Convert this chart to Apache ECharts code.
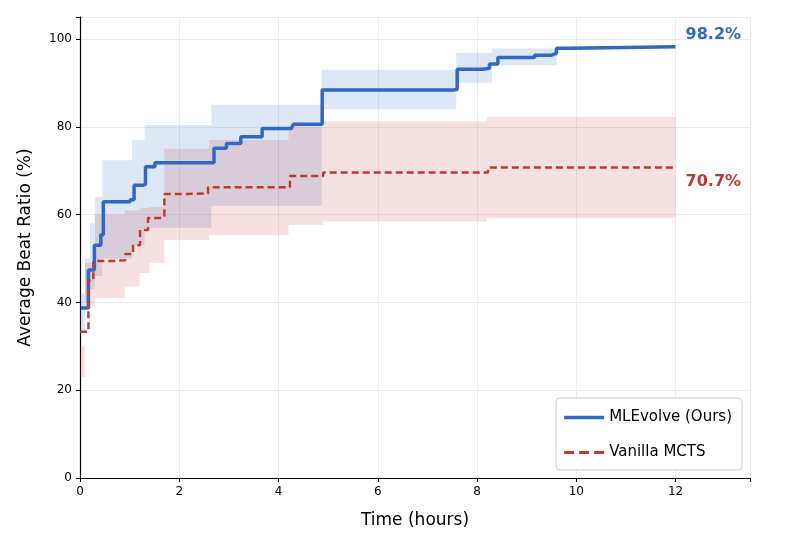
<!DOCTYPE html>
<html><head><meta charset="utf-8">
<script src="https://cdn.jsdelivr.net/npm/echarts@6/dist/echarts.min.js"></script>
<style>html,body{margin:0;padding:0;background:#fff}#c{width:786px;height:544px}</style>
</head><body><div id="c"></div>
<script>
const xTicks = [0, 2, 4, 6, 8, 10, 12];
const yTicks = [0, 20, 40, 60, 80, 100];

// MLEvolve mean (step curve, [hours, %])
const mleT = [0.02,0.17,0.29,0.42,0.47,1.01,1.09,1.27,1.32,1.51,2.65,2.70,2.95,3.19,3.24,3.62,3.67,4.26,4.30,4.83,4.88,7.53,7.60,8.11,8.25,8.42,9.09,9.16,9.50,9.60,9.87,12];
const mleV = [38.7,47.4,53.0,55.4,62.9,63.4,66.7,66.9,70.9,71.8,71.8,75.1,76.2,76.2,77.7,77.7,79.6,79.6,80.6,80.6,88.4,88.5,93.1,93.3,94.3,95.8,95.8,96.3,96.7,97.9,98.2,98.2];
// MLEvolve band
const mleBandT = [0,0.1,0.2,0.3,0.45,1.05,1.3,2.65,4.87,7.58,8.3,9.6,12];
const mleUp = [42,50,58,64,72.4,77,80.4,85,93,96.8,97.8,98.2,98.2];
const mleLo = [33,40,43,46,50,53,57,62,84,90,94,98.2,98.2];

// Vanilla MCTS mean
const mctsT = [0.0,0.17,0.27,0.64,0.91,1.07,1.21,1.37,1.61,1.70,2.17,2.58,4.13,4.23,4.9,8.15,8.22,12];
const mctsV = [33.3,45.0,49.4,49.6,51.0,53.0,56.5,59.2,59.4,64.7,64.8,66.2,66.2,68.8,69.6,69.6,70.7,70.7];
// Vanilla MCTS band
const mctsBandT = [0,0.1,0.3,0.9,1.2,1.4,1.7,2.6,4.2,4.9,8.2,12];
const mctsUp = [30,49,60,61,61.5,61.7,75,77,80,81.2,82.2,82.2];
const mctsLo = [23,39,41,43.6,46.7,49,54.2,55.3,57.6,58.4,59.2,59.2];

const pairs = (t, v) => t.map((x, i) => [x, v[i]]);
function bandSeries(t, up, lo, color) {
  return {
    type: 'custom', silent: true, z: 1,
    data: [0],
    renderItem: (params, api) => {
      const top = [], bot = [];
      for (let i = 0; i < t.length; i++) {
        top.push(api.coord([t[i], up[i]]));
        bot.push(api.coord([t[i], lo[i]]));
        if (i < t.length - 1) {
          top.push(api.coord([t[i + 1], up[i]]));
          bot.push(api.coord([t[i + 1], lo[i]]));
        }
      }
      const pts = top.concat(bot.reverse());
      return { type: 'polygon', shape: { points: pts }, style: { fill: color } };
    }
  };
}
const font = 'DejaVu Sans';
const chart = echarts.init(document.getElementById('c'));
chart.setOption({
  animation: false,
  textStyle: { fontFamily: font },
  grid: { left: 80, right: 36, top: 17, bottom: 66 },
  xAxis: {
    type: 'value', min: 0, max: 13.5, interval: 2,
    name: 'Time (hours)', nameLocation: 'middle', nameGap: 34,
    nameTextStyle: { fontSize: 17, color: '#000' },
    axisLine: { lineStyle: { color: '#000', width: 1.2 } },
    axisTick: { show: true, length: 4, lineStyle: { color: '#000' } },
    axisLabel: { color: '#000', fontSize: 12, formatter: v => xTicks.includes(v) ? v : '' },
    splitLine: { lineStyle: { color: '#ececec' } }
  },
  yAxis: {
    type: 'value', min: 0, max: 105, interval: 20,
    name: 'Average Beat Ratio (%)', nameLocation: 'middle', nameGap: 46,
    nameTextStyle: { fontSize: 17, color: '#000' },
    axisLine: { show: true, lineStyle: { color: '#000', width: 1.2 } },
    axisTick: { show: true, length: 4, lineStyle: { color: '#000' } },
    axisLabel: { color: '#000', fontSize: 12, formatter: v => yTicks.includes(v) ? v : '' },
    splitLine: { lineStyle: { color: '#ececec' } }
  },
  legend: {
    right: 44, bottom: 74, orient: 'vertical',
    data: [
      { name: 'MLEvolve (Ours)', icon: 'path://M0,0 L40,0 L40,3.5 L0,3.5 Z' },
      { name: 'Vanilla MCTS', icon: 'path://M0,0 L10,0 L10,3 L0,3 Z M15,0 L25,0 L25,3 L15,3 Z M30,0 L40,0 L40,3 L30,3 Z' }
    ],
    itemWidth: 40, itemHeight: 3.5, itemGap: 20,
    padding: [12, 10, 10, 8],
    borderColor: '#ccc', borderWidth: 1, borderRadius: 4, backgroundColor: '#fff',
    textStyle: { fontSize: 15, color: '#000' }
  },
  series: [
    bandSeries(mleBandT, mleUp, mleLo, 'rgba(60,110,200,0.17)'),
    bandSeries(mctsBandT, mctsUp, mctsLo, 'rgba(195,70,70,0.16)'),
    {
      name: 'MLEvolve (Ours)', type: 'line', step: 'end', data: pairs(mleT, mleV),
      symbol: 'none', z: 3, color: '#3068c2',
      lineStyle: { width: 3.5, color: '#3068c2' },
      endLabel: { show: true, formatter: '98.2%', color: '#3068c2', fontSize: 16, fontWeight: 'bold', offset: [2, -12] }
    },
    {
      name: 'Vanilla MCTS', type: 'line', step: 'end', data: pairs(mctsT, mctsV),
      symbol: 'none', z: 3, color: '#c0392f',
      lineStyle: { width: 2.5, type: [7, 4], color: '#c0392f' },
      endLabel: { show: true, formatter: '70.7%', color: '#c0392f', fontSize: 16, fontWeight: 'bold', offset: [2, 14] }
    }
  ]
});
</script></body></html>
